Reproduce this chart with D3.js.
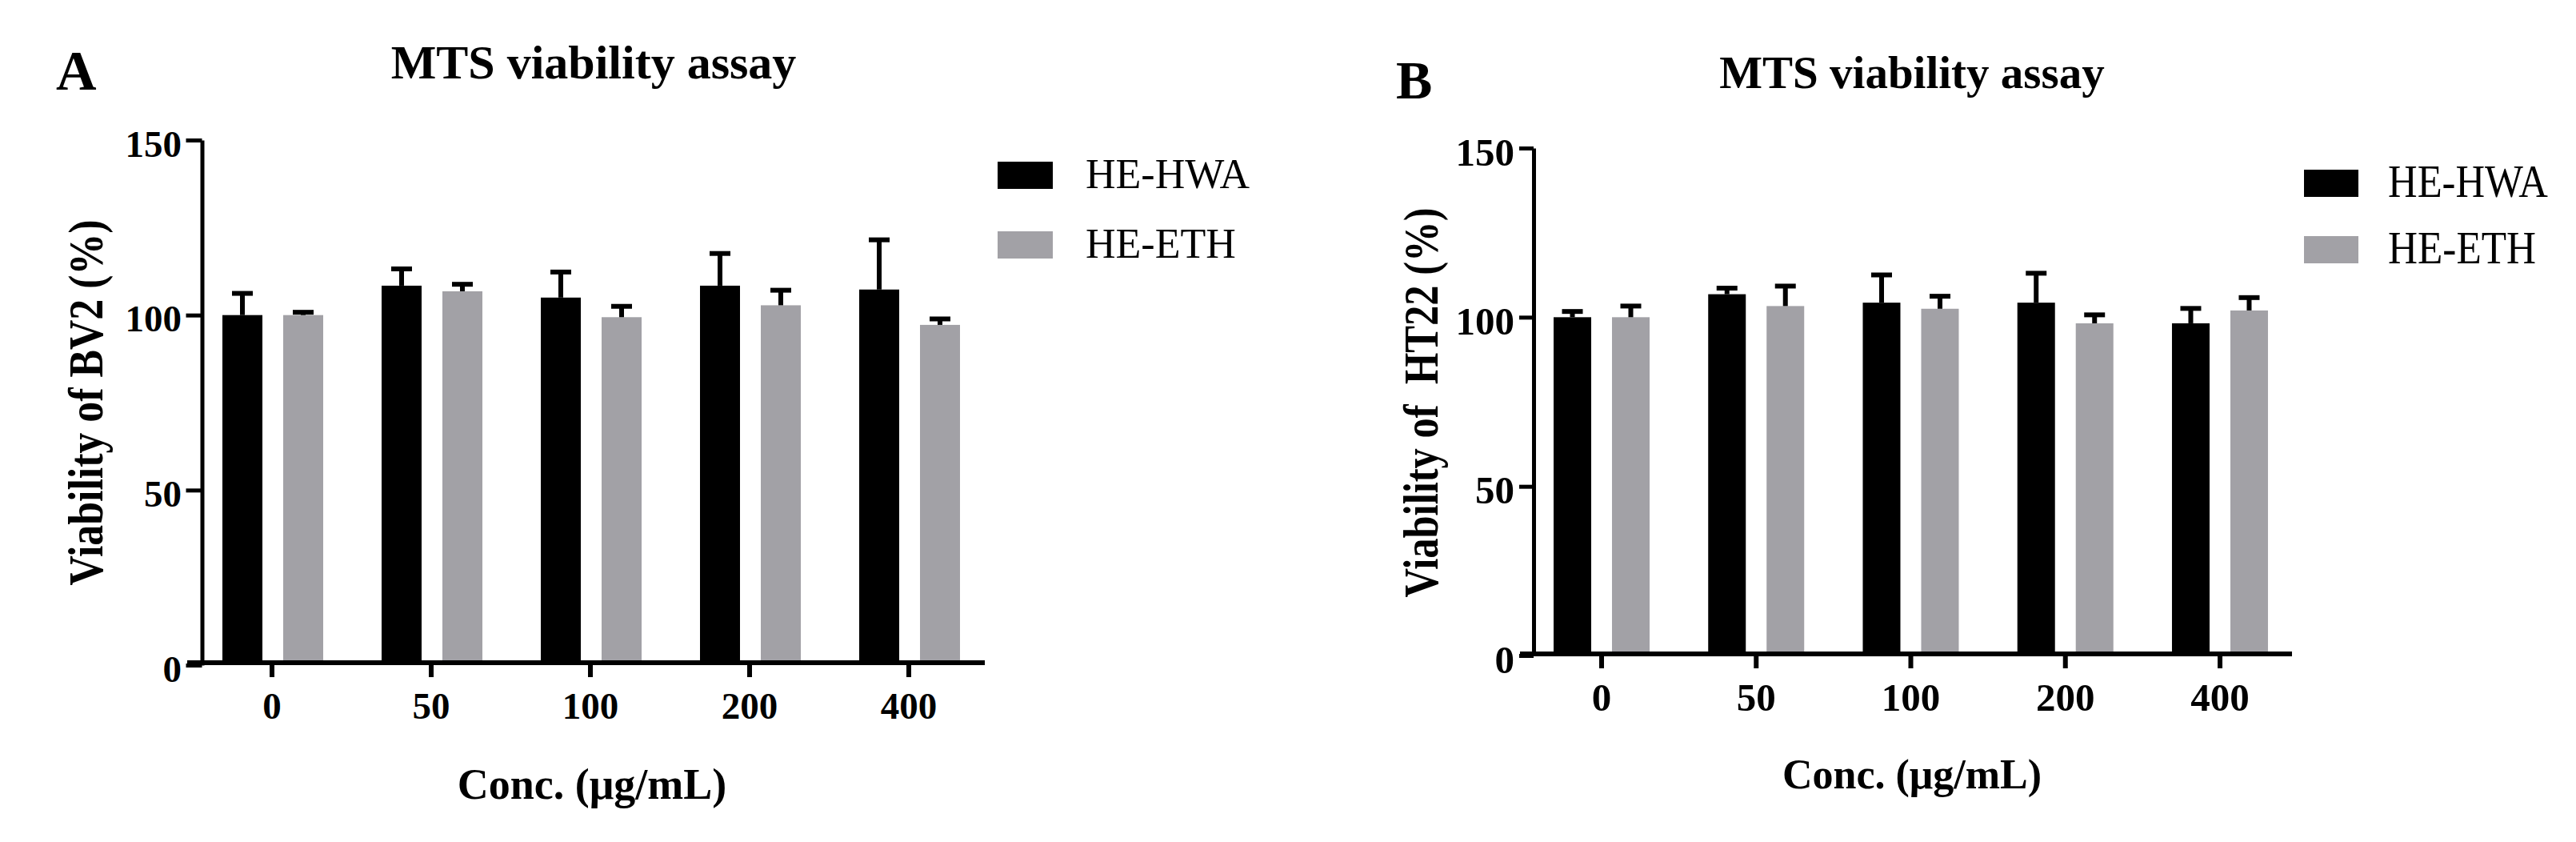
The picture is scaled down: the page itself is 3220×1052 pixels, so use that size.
<!DOCTYPE html>
<html>
<head>
<meta charset="utf-8">
<script src="https://cdn.jsdelivr.net/npm/d3@7"></script>
<style>
  html, body { margin: 0; padding: 0; background: #fff; }
  svg { display: block; }
  text { font-family: "Liberation Serif", "Times New Roman", serif; fill: #000; }
</style>
</head>
<body>
<svg id="chart" width="3220" height="1052"></svg>
<script>
// ---------- data ----------
const categories = ["0", "50", "100", "200", "400"];
const seriesNames = ["HE-HWA", "HE-ETH"];
const yTicks = [0, 50, 100, 150];

// Panel A: BV2 cells
const bv2HWA    = [100.0, 108.4, 105.0, 108.4, 107.3];
const bv2HWAErr = [6.2, 4.8, 7.3, 9.2, 14.2];
const bv2ETH    = [100.0, 106.8, 99.4, 102.8, 97.2];
const bv2ETHErr = [0.8, 2.0, 3.1, 4.3, 1.7];

// Panel B: HT22 cells
const ht22HWA    = [100.0, 106.8, 104.3, 104.3, 98.2];
const ht22HWAErr = [1.7, 1.8, 8.2, 8.7, 4.4];
const ht22ETH    = [100.0, 103.3, 102.5, 98.2, 102.0];
const ht22ETHErr = [3.3, 5.9, 3.7, 2.5, 3.8];

const seriesColors = ["#000000", "#a2a1a6"];

// ---------- layout ----------
const panels = [
  {
    letter: "A", letterX: 70, letterY: 112, letterSize: 70,
    title: "MTS viability assay", titleX: 742, titleY: 98, titleSize: 60,
    yLabel: "Viability of BV2 (%)", yLabelX: 128, yLabelY: 503, yLabelLen: 457, yLabelSize: 62,
    axisX: 252.5, yRange: [831, 175], yTickSize: 20, yTickLabelX: 227, yTickDy: 20, tickFont: 47,
    xRange: [240.5, 1235.5], groupInset: [37.5, 163.5], barPad: 0.342,
    xAxisX0: 234, xAxisX1: 1231, xAxisOff: -3, xTickSize: 18, xTickLabelY: 898,
    xTitle: "Conc. (\u03bcg/mL)", xTitleX: 740, xTitleY: 998, xTitleSize: 54,
    legendX: 1247, legendY: [202, 289], legendW: 69, legendH: 34, legendTextX: 1357, legendSize: 52, legendTextDy: 33,
    legendLen: [null, null],
    data: [bv2HWA, bv2ETH], errs: [bv2HWAErr, bv2ETHErr]
  },
  {
    letter: "B", letterX: 1745, letterY: 123, letterSize: 68,
    title: "MTS viability assay", titleX: 2390, titleY: 110, titleSize: 57,
    yLabel: "Viability of  HT22 (%)", yLabelX: 1797, yLabelY: 503, yLabelLen: 487, yLabelSize: 62,
    axisX: 1917, yRange: [819, 185], yTickSize: 18, yTickLabelX: 1893, yTickDy: 21, tickFont: 49,
    xRange: [1905.4, 2871.6], groupInset: [36.6, 156.6], barPad: 0.356,
    xAxisX0: 1900, xAxisX1: 2865, xAxisOff: -2, xTickSize: 18, xTickLabelY: 888,
    xTitle: "Conc. (\u03bcg/mL)", xTitleX: 2390, xTitleY: 985, xTitleSize: 52,
    legendX: 2880, legendY: [212, 295], legendW: 68, legendH: 34, legendTextX: 2985, legendSize: 56, legendTextDy: 34,
    legendLen: [200, 185],
    data: [ht22HWA, ht22ETH], errs: [ht22HWAErr, ht22ETHErr]
  }
];

const svg = d3.select("#chart");

panels.forEach(p => {
  const g = svg.append("g");

  const y = d3.scaleLinear().domain([0, 150]).range(p.yRange);
  const x = d3.scaleBand().domain(categories).range(p.xRange).padding(0);
  const xs = d3.scaleBand().domain(seriesNames).range(p.groupInset).paddingInner(p.barPad).paddingOuter(0);

  // bars
  seriesNames.forEach((s, si) => {
    const vals = p.data[si];
    const errs = p.errs[si];
    const sg = g.append("g");
    sg.selectAll("rect").data(categories).join("rect")
      .attr("x", (c) => x(c) + xs(s))
      .attr("width", xs.bandwidth())
      .attr("y", (c, i) => y(vals[i]))
      .attr("height", (c, i) => y(0) - y(vals[i]))
      .attr("fill", seriesColors[si]);

    // error bars (upper only)
    const eg = g.append("g").attr("stroke", "#000").attr("stroke-width", 6).attr("fill", "none");
    categories.forEach((c, i) => {
      const cx = x(c) + xs(s) + xs.bandwidth() / 2;
      eg.append("line")
        .attr("x1", cx).attr("x2", cx)
        .attr("y1", y(vals[i])).attr("y2", y(vals[i] + errs[i]));
      eg.append("line")
        .attr("x1", cx - 13).attr("x2", cx + 13)
        .attr("y1", y(vals[i] + errs[i])).attr("y2", y(vals[i] + errs[i]));
    });
  });

  // y axis
  const yAxis = d3.axisLeft(y).tickValues(yTicks).tickSize(p.yTickSize).tickSizeOuter(0).tickPadding(6);
  const yg = g.append("g").attr("transform", `translate(${p.axisX},0)`).call(yAxis);
  yg.select(".domain").attr("stroke", "#000").attr("stroke-width", 5);
  yg.selectAll(".tick line").attr("stroke", "#000").attr("stroke-width", 5);
  yg.selectAll(".tick text")
    .attr("x", p.yTickLabelX - p.axisX)
    .attr("dy", null)
    .attr("y", p.yTickDy)
    .attr("font-family", "Liberation Serif")
    .attr("font-weight", "bold")
    .attr("font-size", p.tickFont)
    .attr("text-anchor", "end")
    .attr("fill", "#000");

  // x axis
  const xAxis = d3.axisBottom(x).tickSize(p.xTickSize).tickSizeOuter(0).tickPadding(8);
  const xg = g.append("g").attr("transform", `translate(0,${y(0) + p.xAxisOff})`).call(xAxis);
  xg.select(".domain").remove();
  xg.selectAll(".tick line").attr("stroke", "#000").attr("stroke-width", 6);
  xg.selectAll(".tick text")
    .attr("dy", null)
    .attr("y", p.xTickLabelY - (y(0) + p.xAxisOff))
    .attr("font-family", "Liberation Serif")
    .attr("font-weight", "bold")
    .attr("font-size", p.tickFont)
    .attr("fill", "#000");
  g.append("line")
    .attr("x1", p.xAxisX0).attr("x2", p.xAxisX1)
    .attr("y1", y(0) + p.xAxisOff).attr("y2", y(0) + p.xAxisOff)
    .attr("stroke", "#000").attr("stroke-width", 6);

  // panel letter
  g.append("text").attr("x", p.letterX).attr("y", p.letterY)
    .attr("font-weight", "bold").attr("font-size", p.letterSize).text(p.letter);

  // title
  g.append("text").attr("x", p.titleX).attr("y", p.titleY)
    .attr("text-anchor", "middle").attr("font-weight", "bold")
    .attr("font-size", p.titleSize).text(p.title);

  // y label
  g.append("text")
    .attr("transform", `translate(${p.yLabelX},${p.yLabelY}) rotate(-90)`)
    .attr("text-anchor", "middle").attr("font-weight", "bold")
    .attr("font-size", p.yLabelSize)
    .attr("textLength", p.yLabelLen).attr("lengthAdjust", "spacingAndGlyphs")
    .style("white-space", "pre")
    .text(p.yLabel);

  // x title
  g.append("text").attr("x", p.xTitleX).attr("y", p.xTitleY)
    .attr("text-anchor", "middle").attr("font-weight", "bold")
    .attr("font-size", p.xTitleSize).text(p.xTitle);

  // legend
  seriesNames.forEach((s, si) => {
    g.append("rect").attr("x", p.legendX).attr("y", p.legendY[si])
      .attr("width", p.legendW).attr("height", p.legendH).attr("fill", seriesColors[si]);
    const t = g.append("text").attr("x", p.legendTextX).attr("y", p.legendY[si] + p.legendTextDy)
      .attr("font-size", p.legendSize).text(s);
    if (p.legendLen[si]) t.attr("textLength", p.legendLen[si]).attr("lengthAdjust", "spacingAndGlyphs");
  });
});
</script>
</body>
</html>
